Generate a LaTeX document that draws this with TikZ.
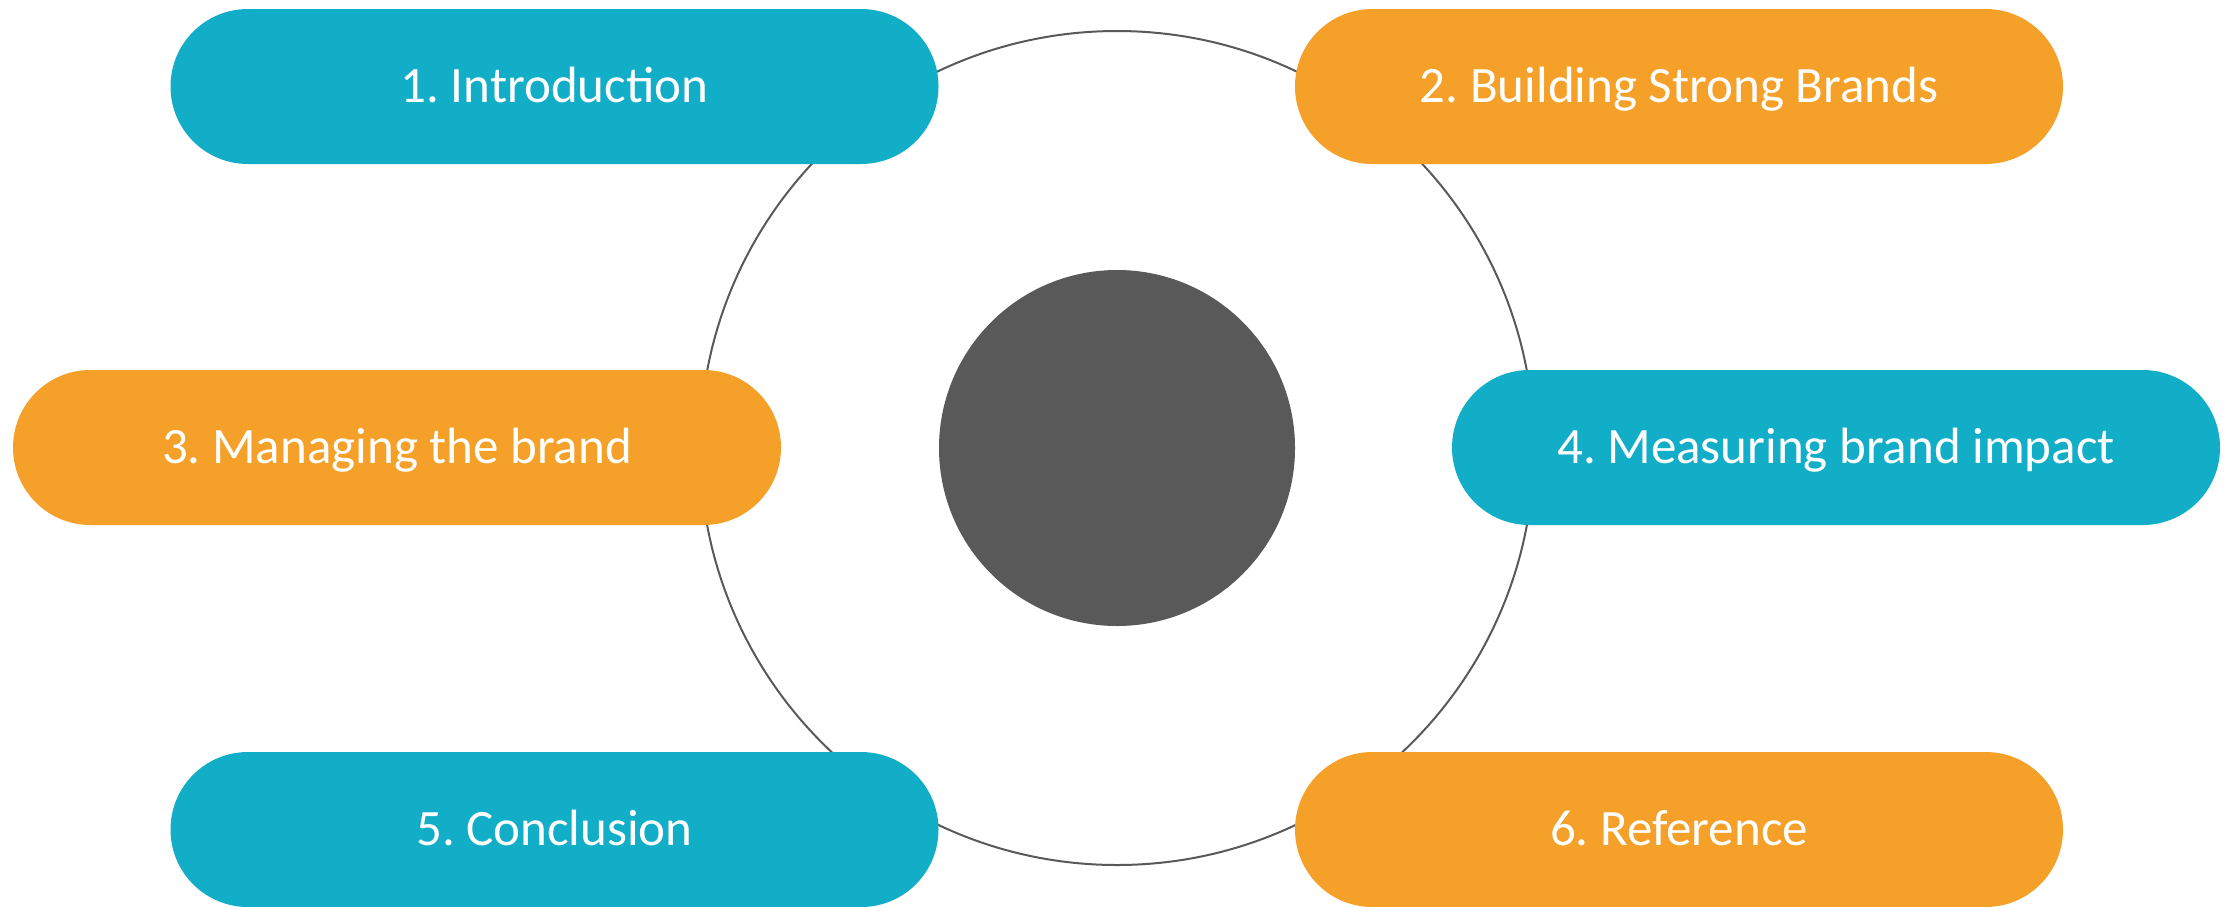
\documentclass[tikz,border=0pt]{standalone}
\usepackage{fontspec}
\setmainfont{Carlito}
\definecolor{pillteal}{HTML}{12AEC7}
\definecolor{pillorange}{HTML}{F4A029}
\definecolor{hubgray}{HTML}{595959}

\begin{document}
\begin{tikzpicture}[
x=0.5pt, y=-0.5pt,
pill/.style={rectangle, rounded corners=38.7pt, minimum width=384pt,
  minimum height=77.5pt, inner sep=0pt, text=white,
  text height=16.3pt, text depth=0pt, font=\fontsize{25.5}{31}\selectfont},
blue/.style={pill, fill=pillteal},
amber/.style={pill, fill=pillorange}
]
\useasboundingbox (0,0) rectangle (2236,906);

% ring and hub
\node[circle, draw=hubgray, line width=1pt, minimum size=417pt, inner sep=0pt] (ring) at (1117,448) {};
\node[circle, fill=hubgray, minimum size=178pt, inner sep=0pt] (hub) at (ring.center) {};

% topics
\node[blue]  (intro)    at (554.5,86.5)  {1.~Introduction};
\node[amber] (building) at (1679,86.5)   {2.~Building Strong Brands};
\node[amber] (managing) at (397,447.5)   {3.~Managing the brand};
\node[blue]  (measure)  at (1836,447.5)  {4.~Measuring brand impact};
\node[blue]  (concl)    at (554.5,829.5) {5.~Conclusion};
\node[amber] (refs)     at (1679,829.5)  {6.~Reference};

\end{tikzpicture}
\end{document}
